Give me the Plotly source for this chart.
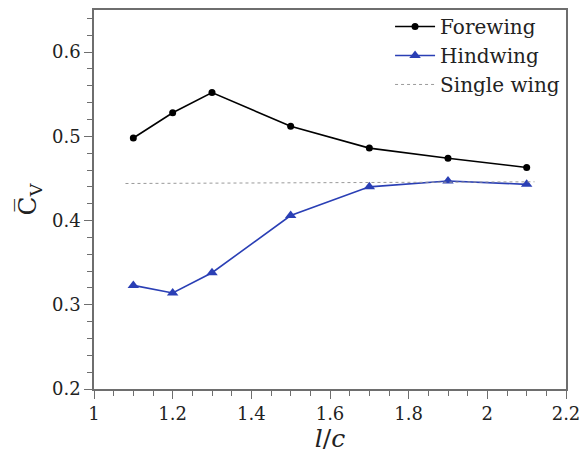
import plotly.graph_objects as go

# Spacing ratio l/c and mean vertical force coefficient
ratio = [1.1, 1.2, 1.3, 1.5, 1.7, 1.9, 2.1]
forewing = [0.498, 0.528, 0.552, 0.512, 0.486, 0.474, 0.463]
hindwing = [0.323, 0.314, 0.338, 0.406, 0.440, 0.447, 0.443]
single_x = [1.08, 2.12]
single_y = [0.444, 0.446]

x_ticks = [1, 1.2, 1.4, 1.6, 1.8, 2, 2.2]
x_ticklabels = ["1", "1.2", "1.4", "1.6", "1.8", "2", "2.2"]
y_ticks = [0.2, 0.3, 0.4, 0.5, 0.6]
y_ticklabels = ["0.2", "0.3", "0.4", "0.5", "0.6"]

FONT = "DejaVu Serif, Liberation Serif, serif"
AXIS_COLOR = "#6e6e6e"

fig = go.Figure()
fig.add_trace(go.Scatter(
    x=ratio, y=forewing, name="Forewing", mode="lines+markers",
    line=dict(color="black", width=1.6),
    marker=dict(symbol="circle", size=7, color="black"),
))
fig.add_trace(go.Scatter(
    x=ratio, y=hindwing, name="Hindwing", mode="lines+markers",
    line=dict(color="#2a3fb5", width=1.6),
    marker=dict(symbol="triangle-up", size=10, color="#2a3fb5"),
))
fig.add_trace(go.Scatter(
    x=single_x, y=single_y, name="Single wing", mode="lines",
    line=dict(color="#9a9a9a", width=1, dash="dot"),
))

axis_common = dict(
    showline=True, linecolor=AXIS_COLOR, linewidth=1.5, mirror=True,
    showgrid=False, zeroline=False,
    ticks="outside", tickcolor=AXIS_COLOR, ticklen=8, tickwidth=1.2,
    tickfont=dict(family=FONT, size=18, color="#222"),
)

fig.update_layout(
    width=581, height=461,
    margin=dict(l=94, r=15, t=10, b=72, autoexpand=False),
    paper_bgcolor="white", plot_bgcolor="white",
    font=dict(family=FONT, color="#222"),
    showlegend=True,
    legend=dict(
        x=0.998, y=1.008, xanchor="right", yanchor="top",
        bgcolor="rgba(0,0,0,0)", font=dict(family=FONT, size=20, color="#222"),
        tracegroupgap=0, itemwidth=40,
    ),
    xaxis=dict(
        range=[1, 2.2], tickvals=x_ticks, ticktext=x_ticklabels,
        minor=dict(dtick=0.05, ticks="outside", ticklen=5, tickcolor=AXIS_COLOR, tickwidth=1),
        title=dict(text="<i>l</i>/<i>c</i>", font=dict(family=FONT, size=25), standoff=6),
        **axis_common,
    ),
    yaxis=dict(
        range=[0.2, 0.65], tickvals=y_ticks, ticktext=y_ticklabels,
        minor=dict(dtick=0.02, ticks="outside", ticklen=5, tickcolor=AXIS_COLOR, tickwidth=1),
        title=dict(text="C\u0305<sub>V</sub>", font=dict(family=FONT, size=25), standoff=8),
        **axis_common,
    ),
)

fig.write_html("out.html")
